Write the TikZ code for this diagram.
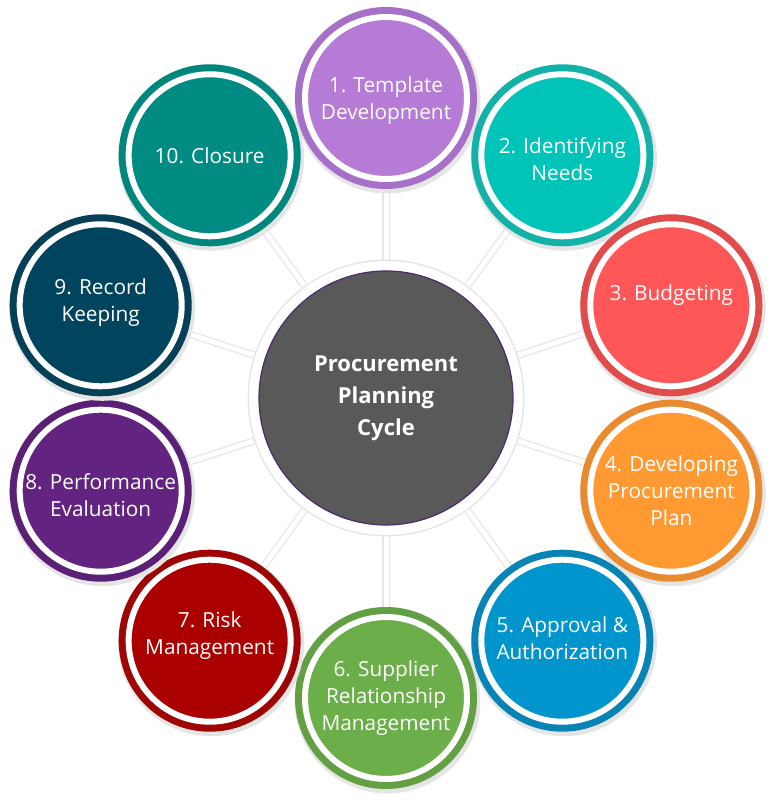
\documentclass[tikz,border=0pt]{standalone}
\usepackage{fontspec}
\setmainfont{Open Sans}
\usetikzlibrary{backgrounds}

\definecolor{hubgray}{HTML}{595959}
\definecolor{hubedge}{HTML}{4E2A6B}
\definecolor{fillA}{HTML}{B67BD6}
\definecolor{ringA}{HTML}{A770C8}
\definecolor{fillB}{HTML}{00C4B8}
\definecolor{ringB}{HTML}{13B2A8}
\definecolor{fillC}{HTML}{FF5757}
\definecolor{ringC}{HTML}{E24B4B}
\definecolor{fillD}{HTML}{FF9A33}
\definecolor{ringD}{HTML}{EA8A2E}
\definecolor{fillE}{HTML}{0095CC}
\definecolor{ringE}{HTML}{0883B5}
\definecolor{fillF}{HTML}{6CAE49}
\definecolor{ringF}{HTML}{62A043}
\definecolor{fillG}{HTML}{AA0000}
\definecolor{ringG}{HTML}{9E0606}
\definecolor{fillH}{HTML}{622480}
\definecolor{ringH}{HTML}{5A2076}
\definecolor{fillI}{HTML}{00445E}
\definecolor{ringI}{HTML}{054057}
\definecolor{fillJ}{HTML}{008C82}
\definecolor{ringJ}{HTML}{00877D}

\tikzset{
	stage/.style 2 args={circle, minimum size=162pt, inner sep=0pt, fill=#1, draw=white, line width=6pt,
		preaction={draw=black!10, line width=24pt, transform canvas={shift={(1.5pt,-2.5pt)}}},
		preaction={draw=#2, line width=20pt}},
	stagetext/.style={text=white, align=center, inner sep=0pt, font=\fontsize{20.8}{27}\selectfont},
	hub/.style={circle, minimum size=254pt, inner sep=0pt, fill=hubgray, draw=hubedge, line width=1.2pt,
		preaction={draw=black!10, line width=23pt},
		preaction={draw=white, line width=20pt}},
	hubtext/.style={text=white, align=center, inner sep=0pt, font=\bfseries\fontsize{22}{32}\selectfont},
	spoke/.style={draw=black!10, line width=1.2pt, double=white, double distance=5pt}
}

\begin{document}
\begin{tikzpicture}[x=1pt, y=1pt]

	\useasboundingbox (0,0) rectangle (772,800);

	\node[hub] (hub) at (386,402) {};
	\node[hubtext] (title) at (hub) {Procurement\\Planning\\Cycle};

	% ten stages round the hub
	\node[stage={fillA}{ringA}] (s1) at ([shift={(90:300)}]hub) {};
	\node[stage={fillB}{ringB}] (s2) at ([shift={(54:300)}]hub) {};
	\node[stage={fillC}{ringC}] (s3) at ([shift={(18:300)}]hub) {};
	\node[stage={fillD}{ringD}] (s4) at ([shift={(-18:300)}]hub) {};
	\node[stage={fillE}{ringE}] (s5) at ([shift={(-54:300)}]hub) {};
	\node[stage={fillF}{ringF}] (s6) at ([shift={(-90:300)}]hub) {};
	\node[stage={fillG}{ringG}] (s7) at ([shift={(-126:300)}]hub) {};
	\node[stage={fillH}{ringH}] (s8) at ([shift={(-162:300)}]hub) {};
	\node[stage={fillI}{ringI}] (s9) at ([shift={(162:300)}]hub) {};
	\node[stage={fillJ}{ringJ}] (s10) at ([shift={(126:300)}]hub) {};

	\node[stagetext] (t1) at ([yshift=-3]s1) {1. Template\\Development};
	\node[stagetext] (t2) at ([yshift=-4]s2) {2. Identifying\\Needs};
	\node[stagetext] (t3) at ([yshift=10]s3) {3. Budgeting};
	\node[stagetext] (t4) at (s4) {4. Developing\\Procurement\\Plan};
	\node[stagetext] (t5) at ([yshift=3]s5) {5. Approval \&\\Authorization};
	\node[stagetext] (t6) at (s6) {6. Supplier\\Relationship\\Management};
	\node[stagetext] (t7) at ([yshift=5]s7) {7. Risk\\Management};
	\node[stagetext] (t8) at ([yshift=-4]s8) {8. Performance\\Evaluation};
	\node[stagetext] (t9) at ([yshift=3]s9) {9. Record\\Keeping};
	\node[stagetext] (t10) at (s10) {10. Closure};

	\begin{scope}[on background layer]
		\draw[spoke] (hub.center) -- (s1.center);
		\draw[spoke] (hub.center) -- (s2.center);
		\draw[spoke] (hub.center) -- (s3.center);
		\draw[spoke] (hub.center) -- (s4.center);
		\draw[spoke] (hub.center) -- (s5.center);
		\draw[spoke] (hub.center) -- (s6.center);
		\draw[spoke] (hub.center) -- (s7.center);
		\draw[spoke] (hub.center) -- (s8.center);
		\draw[spoke] (hub.center) -- (s9.center);
		\draw[spoke] (hub.center) -- (s10.center);
	\end{scope}

\end{tikzpicture}
\end{document}
